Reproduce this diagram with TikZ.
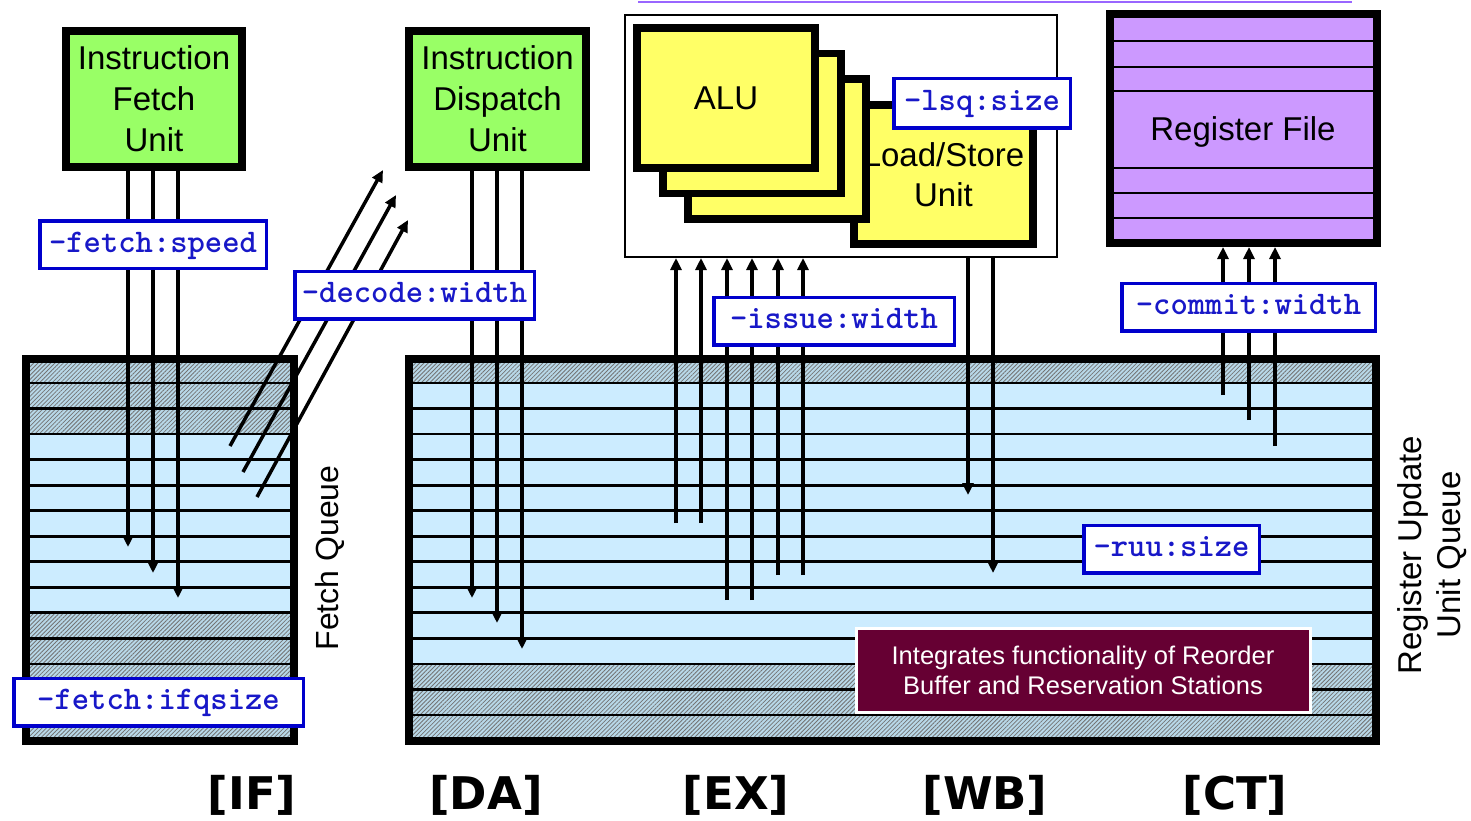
\documentclass[tikz,border=0pt]{standalone}
\usepackage{fontspec}
\setmainfont{Liberation Sans}
\newfontfamily\stagefont{DejaVu Sans}
\usetikzlibrary{arrows.meta,patterns.meta}
\definecolor{unitgreen}{RGB}{153,255,102}
\definecolor{unityellow}{RGB}{255,255,102}
\definecolor{regviolet}{RGB}{204,153,255}
\definecolor{rowblue}{RGB}{204,236,255}
\definecolor{hatchbase}{RGB}{184,216,232}
\definecolor{optblue}{RGB}{0,0,204}
\definecolor{opttext}{RGB}{24,24,200}
\definecolor{notemaroon}{RGB}{102,0,51}
\definecolor{rulepurple}{RGB}{153,102,255}

\begin{document}
\begin{tikzpicture}[x=1pt,y=-1pt,
  unit/.style={draw=black, line width=8pt, fill=unitgreen, align=center,
    font=\fontsize{33}{41}\selectfont, inner sep=0pt,
    minimum width=176pt, minimum height=136pt},
  fu/.style={draw=black, line width=7.5pt, fill=unityellow, inner sep=0pt,
    align=center, font=\fontsize{33}{40}\selectfont,
    minimum width=178pt, minimum height=140pt},
  opt/.style={draw=optblue, line width=3.5pt, fill=white, text=opttext,
    font=\ttfamily\bfseries\fontsize{33}{34}\selectfont, inner sep=0pt,
    text height=20pt, text depth=5pt, minimum height=47.5pt},
  queue/.style={draw=black, line width=8pt, inner sep=0pt, minimum height=382pt},
  rowsep/.style={line width=2.8pt},
  lightrow/.style={fill=rowblue},
  hatchrow/.style={fill=hatchbase,
    postaction={pattern={Lines[angle=45,distance=3pt,line width=0.8pt]},
      pattern color=black!55}},
  arr/.style={line width=3.5pt, -{Triangle[length=12pt,width=11pt]}},
  side/.style={rotate=90, align=center, font=\fontsize{32}{39}\selectfont},
  stagelbl/.style={font=\stagefont\bfseries\fontsize{45}{50}\selectfont}]

\useasboundingbox (0,0) rectangle (1471,821);

% rule along the top edge
\coordinate (ruleL) at (638,2);
\coordinate (ruleR) at (1352,2);
\draw[rulepurple, line width=2pt] (ruleL) -- (ruleR);

% ---------- fetch queue ----------
\fill[lightrow] (30,363) rectangle (290,737);
\fill[hatchrow] (30,363) rectangle (290,434.1);
\fill[hatchrow] (30,612.9) rectangle (290,737);
\foreach \k in {0,...,13} \draw[rowsep] (30,383+25.54*\k) -- (290,383+25.54*\k);
\node[queue, minimum width=268pt] (fq) at (160,550) {};

% ---------- register update unit ----------
\fill[lightrow] (413,363) rectangle (1372,737);
\fill[hatchrow] (413,363) rectangle (1372,383);
\fill[hatchrow] (413,663.9) rectangle (1372,737);
\foreach \k in {0,...,13} \draw[rowsep] (413,383+25.54*\k) -- (1372,383+25.54*\k);
\node[queue, minimum width=967pt] (ruu) at (892.5,550) {};

% ---------- execution units ----------
\node[draw=black, line width=2pt, fill=white, inner sep=0pt,
  minimum width=432pt, minimum height=242pt] (ex) at (841,136) {};
\node[fu, minimum width=179pt, minimum height=139pt] (lsu) at (943.5,174.5) {Load/Store\\Unit};
\node[fu] (alu3) at (777,149) {};
\node[fu] (alu2) at (752,123.5) {};
\node[fu] (alu) at (726,98) {ALU};

% ---------- register file ----------
\node[draw=black, line width=8pt, fill=regviolet, inner sep=0pt,
  minimum width=267pt, minimum height=229pt] (rf) at (1243.5,128.5) {};
\foreach \y in {41,67,91,168,193,218} \draw[line width=2pt] (1114,\y) -- (1373,\y);
\node[font=\fontsize{33}{40}\selectfont] (rftext) at (1243,132) {Register File};

% ---------- front-end units ----------
\node[unit] (fetch) at (154,99) {Instruction\\Fetch\\Unit};
\node[unit, minimum width=177pt] (disp) at (497.5,99) {Instruction\\Dispatch\\Unit};

% ---------- connector end points ----------
\coordinate (f1) at (128,547);
\coordinate (f2) at (153,573);
\coordinate (f3) at (178,598);
\coordinate (a1) at (472,598);
\coordinate (a2) at (497,623);
\coordinate (a3) at (522,649);
\coordinate (d1s) at (230,446); \coordinate (d1e) at (383,170);
\coordinate (d2s) at (243,472); \coordinate (d2e) at (396,195);
\coordinate (d3s) at (257,497); \coordinate (d3e) at (408,220);
\coordinate (i1) at (676,523);
\coordinate (i2) at (701,523);
\coordinate (i3) at (727,600);
\coordinate (i4) at (752,600);
\coordinate (i5) at (778,575);
\coordinate (i6) at (803,575);
\coordinate (w1) at (968,495);
\coordinate (w2) at (993,573);
\coordinate (c1) at (1223,395);
\coordinate (c2) at (1249,420);
\coordinate (c3) at (1275,446);

% fetch: unit -> fetch queue
\foreach \p in {f1,f2,f3} \draw[arr] (fetch.south -| \p) -- (\p);
% dispatch: unit -> RUU
\foreach \p in {a1,a2,a3} \draw[arr] (disp.south -| \p) -- (\p);
% decode: fetch queue -> dispatch
\draw[arr] (d1s) -- (d1e);
\draw[arr] (d2s) -- (d2e);
\draw[arr] (d3s) -- (d3e);
% issue: RUU -> functional units
\foreach \p in {i1,i2,i3,i4,i5,i6} \draw[arr] (\p) -- (ex.south -| \p);
% writeback: functional units -> RUU
\foreach \p in {w1,w2} \draw[arr] (ex.south -| \p) -- (\p);
% commit: RUU -> register file
\foreach \p in {c1,c2,c3} \draw[arr] (\p) -- (rf.south -| \p);

% ---------- simulator options ----------
\node[opt, minimum width=226.5pt] (optfs) at (153,244.5) {-fetch:speed};
\node[opt, minimum width=239.5pt] (optdw) at (414.5,295) {-decode:width};
\node[opt, minimum width=240.5pt] (optiw) at (834,321) {-issue:width};
\node[opt, minimum width=176.5pt, minimum height=49.5pt] (optlsq) at (982,103.5) {-lsq:size};
\node[opt, minimum width=253.5pt] (optcw) at (1248.5,307) {-commit:width};
\node[opt, minimum width=175.5pt] (optruu) at (1171.5,549) {-ruu:size};
\node[opt, minimum width=289.5pt] (optifq) at (158.5,702) {-fetch:ifqsize};

% ---------- notes and captions ----------
\node[draw=white, line width=3pt, fill=notemaroon, text=white, align=center,
  font=\fontsize{25.5}{30}\selectfont, inner sep=0pt,
  minimum width=454pt, minimum height=84pt] (note) at (1083,670.5)
  {Integrates functionality of Reorder\\Buffer and Reservation Stations};

\node[side] (fqlbl) at (330,558) {Fetch Queue};
\node[side, font=\fontsize{33}{39}\selectfont] (ruulbl) at (1432,555) {Register Update\\Unit Queue};

\node[stagelbl] (sIF) at (252,795) {[IF]};
\node[stagelbl] (sDA) at (486,795) {[DA]};
\node[stagelbl] (sEX) at (736,795) {[EX]};
\node[stagelbl] (sWB) at (985,795) {[WB]};
\node[stagelbl] (sCT) at (1235,795) {[CT]};
\end{tikzpicture}
\end{document}
